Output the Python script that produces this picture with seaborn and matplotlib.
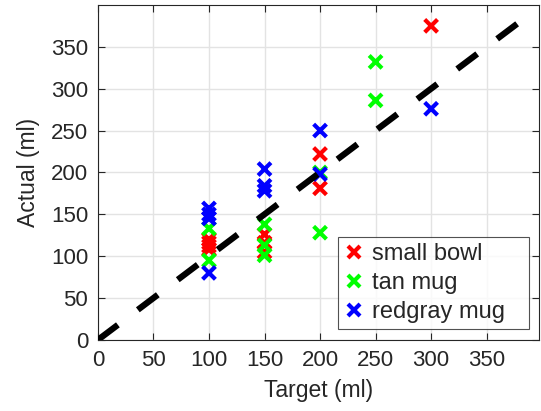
import matplotlib
matplotlib.use("Agg")
import matplotlib.pyplot as plt
import numpy as np
import pandas as pd
import seaborn as sns

# pour test data
bowl_target = [100, 100, 100, 100, 150, 150, 150, 200, 200, 300]
bowl_actual = [120, 116, 112, 108, 126, 116, 105, 222, 181, 375]
tan_target = [100, 100, 150, 150, 150, 200, 200, 250, 250]
tan_actual = [133, 95, 138, 113, 101, 200, 128, 332, 286]
redgray_target = [100, 100, 100, 100, 150, 150, 150, 200, 200, 300]
redgray_actual = [157, 150, 145, 80, 204, 184, 178, 250, 198, 276]

containers = ["small bowl", "tan mug", "redgray mug"]
colors = ["#ff0000", "#00ff00", "#0000ff"]
ideal = [0, 385]

df = pd.concat([
    pd.DataFrame({"target": bowl_target, "actual": bowl_actual, "container": containers[0]}),
    pd.DataFrame({"target": tan_target, "actual": tan_actual, "container": containers[1]}),
    pd.DataFrame({"target": redgray_target, "actual": redgray_actual, "container": containers[2]}),
])

sns.set_style("whitegrid")
plt.rcParams["font.family"] = ["Liberation Sans", "DejaVu Sans"]

fig = plt.figure(figsize=(5.41, 4.11), dpi=100)
ax = fig.add_axes([0.181, 0.173, 0.815, 0.815])

# ideal line
ax.plot(ideal, ideal, color="black", lw=4.5, linestyle=(0, (4, 4)),
        dash_capstyle="butt", zorder=3)

sns.scatterplot(data=df, x="target", y="actual", hue="container",
                hue_order=containers, palette=colors, marker="x",
                s=85, linewidth=3, ax=ax, zorder=2)

ax.set_xlim(0, 397)
ax.set_ylim(0, 400)
ax.set_xticks(np.arange(0, 351, 50))
ax.set_yticks(np.arange(0, 351, 50))
ax.set_xlabel("Target (ml)", fontsize=16.5, color="#262626", labelpad=6)
ax.set_ylabel("Actual (ml)", fontsize=16.5, color="#262626", labelpad=8)
ax.tick_params(axis="both", which="both", direction="in", length=5, pad=7,
               labelsize=16, labelcolor="#262626", color="#262626",
               top=True, right=True, bottom=True, left=True, width=0.8)
ax.grid(True, color="#e3e3e3", lw=1)
for sp in ax.spines.values():
    sp.set_color("#262626")
    sp.set_linewidth(0.8)

# matlab-style box with wide right margin
leg = ax.legend(loc="lower left", bbox_to_anchor=(0.544, 0.033, 0.433, 0.1),
                mode="expand", fontsize=17, frameon=True, fancybox=False,
                edgecolor="#262626", borderaxespad=0, handletextpad=0.28,
                borderpad=0.25, labelspacing=0.3, handlelength=0.9)
leg.get_frame().set_linewidth(0.8)

fig.savefig("out.png", dpi=100)
